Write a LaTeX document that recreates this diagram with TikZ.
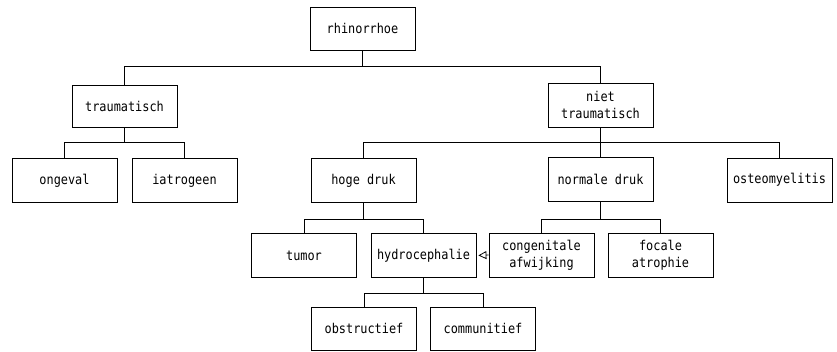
\documentclass[tikz,border=0pt]{standalone}
\usepackage{fontspec}
\setmainfont{DejaVu Sans Mono}[FakeStretch=0.88]
\usetikzlibrary{arrows.meta}
\begin{document}
\begin{tikzpicture}[x=1pt,y=-1pt,
  box/.style={draw, line width=0.8pt, minimum width=105pt, minimum height=44pt,
    inner sep=0pt, align=center, font=\fontsize{13.5}{17}\selectfont},
  conn/.style={line width=0.8pt}]
\useasboundingbox (0,0) rectangle (837,351);
\node[box, minimum height=43pt] (rhin) at (362.5,28.5) {rhinorrhoe};
\node[box, minimum height=42pt] (trau) at (124.5,106) {traumatisch};
\node[box] (niet) at (600.5,105) {niet\\traumatisch};
\node[box] (ong) at (64.5,180.5) {ongeval};
\node[box] (iat) at (184.5,180.5) {iatrogeen};
\node[box] (hoge) at (363.5,180.5) {hoge druk};
\node[box] (norm) at (600.5,179.5) {normale druk};
\node[box] (osteo) at (779.5,180) {osteomyelitis};
\node[box] (tumor) at (304,255.5) {tumor};
\node[box] (hydro) at (423.5,255.5) {hydrocephalie};
\node[box] (cong) at (541.5,255) {congenitale\\afwijking};
\node[box] (foc) at (660.5,255) {focale\\atrophie};
\node[box, minimum height=43pt] (obs) at (364,328.5) {obstructief};
\node[box, minimum height=43pt] (com) at (483,328.5) {communitief};
\coordinate (l1) at (0,66);
\coordinate (l2) at (0,142.5);
\coordinate (l3) at (0,219);
\coordinate (l4) at (0,293);
% level 1
\draw[conn] (rhin.south) -- (rhin.south |- l1) -| (trau.north);
\draw[conn] (rhin.south |- l1) -| (niet.north);
% traumatisch
\draw[conn] (trau.south) -- (trau.south |- l2) -| (ong.north);
\draw[conn] (trau.south |- l2) -| (iat.north);
% niet traumatisch
\draw[conn] (niet.south) -- (niet.south |- l2) -| (hoge.north);
\draw[conn] (niet.south |- l2) -- (norm.north);
\draw[conn] (niet.south |- l2) -| (osteo.north);
% hoge druk
\draw[conn] (hoge.south) -- (hoge.south |- l3) -| (tumor.north);
\draw[conn] (hoge.south |- l3) -| (hydro.north);
% normale druk
\draw[conn] (norm.south) -- (norm.south |- l3) -| (cong.north);
\draw[conn] (norm.south |- l3) -| (foc.north);
% hydrocephalie
\draw[conn] (hydro.south) -- (hydro.south |- l4) -| (obs.north);
\draw[conn] (hydro.south |- l4) -| (com.north);
% arrow
\draw[conn, -{Triangle[open, length=8pt, width=8pt, line width=0.8pt]}, shorten >=2pt] (cong.west) -- (hydro.east);
\end{tikzpicture}
\end{document}
